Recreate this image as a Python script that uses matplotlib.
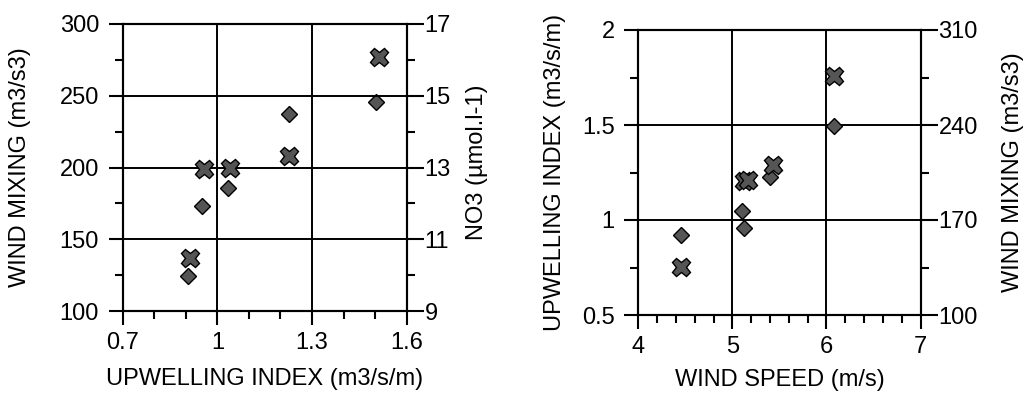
import numpy as np
import matplotlib
matplotlib.use('Agg')
import matplotlib.pyplot as plt
from matplotlib.ticker import MultipleLocator

plt.rcParams['font.family'] = ['Liberation Sans', 'DejaVu Sans']
plt.rcParams['font.size'] = 17

# left panel: upwelling index vs wind mixing (X, left axis) and NO3 (diamond, right axis)
upw_x = [0.913, 0.958, 1.04, 1.228, 1.513]
mix_x = [136.7, 198.7, 199.9, 208.2, 277.2]
upw_d = [0.906, 0.952, 1.035, 1.228, 1.502]
no3_d = [9.98, 11.93, 12.42, 14.49, 14.83]

# right panel: wind speed vs upwelling index (diamond, left axis) and wind mixing (X, right axis)
ws_d = [4.452, 5.105, 5.122, 5.401, 6.081]
upw2_d = [0.921, 1.049, 0.956, 1.228, 1.496]
ws_x = [4.45, 5.12, 5.17, 5.43, 6.08]
mix2_x = [135.6, 199.0, 199.5, 210.5, 276.3]

left_yticks = [100, 150, 200, 250, 300]
left_y2ticks = [9, 11, 13, 15, 17]
left_xticks = [0.7, 1.0, 1.3, 1.6]
left_xlabels = ['0.7', '1', '1.3', '1.6']
right_yticks = [0.5, 1.0, 1.5, 2.0]
right_ylabels = ['0.5', '1', '1.5', '2']
right_y2ticks = [100, 170, 240, 310]
right_y2minor = [135, 205, 275]
right_xticks = [4, 5, 6, 7]

mcol = '#555555'

fig = plt.figure(figsize=(10.3, 4), dpi=100)
ax1 = fig.add_axes([0.1191, 0.2225, 0.2757, 0.7175])
ax2 = fig.add_axes([0.6197, 0.2125, 0.2740, 0.7125])


def style(ax, ax_r):
    for a in (ax, ax_r):
        for s in a.spines.values():
            s.set_linewidth(1.5)
        a.tick_params(which='major', direction='out', length=10, width=1.5)
        a.tick_params(which='minor', direction='out', length=6, width=1.5)
    ax.grid(True, which='major', color='black', lw=1.4)
    ax.set_axisbelow(True)
    ax.tick_params(axis='y', pad=7)
    ax.tick_params(axis='x', pad=5)
    ax_r.tick_params(axis='y', pad=1, length=12)


# ---- left panel
ax1r = ax1.twinx()
ax1.set_xlim(0.7, 1.6)
ax1.set_ylim(100, 300)
ax1r.set_ylim(9, 17)
ax1.set_xticks(left_xticks, left_xlabels)
ax1.set_yticks(left_yticks)
ax1r.set_yticks(left_y2ticks)
ax1.xaxis.set_minor_locator(MultipleLocator(0.1))
ax1.yaxis.set_minor_locator(MultipleLocator(25))
ax1r.yaxis.set_minor_locator(MultipleLocator(1))
style(ax1, ax1r)
ax1r.plot(upw_d, no3_d, 'D', ms=8.5, mfc=mcol, mec='black', mew=1)
ax1.plot(upw_x, mix_x, 'X', ms=13, mfc=mcol, mec='black', mew=1)
ax1.set_zorder(ax1r.get_zorder() + 1)
ax1.patch.set_visible(False)
ax1.set_xlabel('UPWELLING INDEX (m3/s/m)')
ax1.set_ylabel('WIND MIXING (m3/s3)')
ax1r.set_ylabel('NO3 (\u00b5mol.l-1)')
ax1.xaxis.set_label_coords(0.5, -0.2)
ax1.yaxis.label.set_va('center')
ax1.yaxis.set_label_coords(-0.362, 0.5)
ax1r.yaxis.label.set_va('center')
ax1r.yaxis.set_label_coords(1.246, 0.52)

# ---- right panel
ax2r = ax2.twinx()
ax2.set_xlim(4, 7)
ax2.set_ylim(0.5, 2)
ax2r.set_ylim(100, 310)
ax2.set_xticks(right_xticks)
ax2.set_yticks(right_yticks, right_ylabels)
ax2r.set_yticks(right_y2ticks)
ax2r.set_yticks(right_y2minor, minor=True)
ax2.xaxis.set_minor_locator(MultipleLocator(0.2))
ax2.yaxis.set_minor_locator(MultipleLocator(0.25))
style(ax2, ax2r)
ax2.plot(ws_d, upw2_d, 'D', ms=8.5, mfc=mcol, mec='black', mew=1)
ax2r.plot(ws_x, mix2_x, 'X', ms=13, mfc=mcol, mec='black', mew=1)
ax2.set_xlabel('WIND SPEED (m/s)')
ax2.set_ylabel('UPWELLING INDEX (m3/s/m)')
ax2r.set_ylabel('WIND MIXING (m3/s3)')
ax2.xaxis.set_label_coords(0.5, -0.19)
ax2.yaxis.label.set_va('center')
ax2.yaxis.set_label_coords(-0.295, 0.5)
ax2r.yaxis.label.set_va('center')
ax2r.yaxis.set_label_coords(1.327, 0.5)

fig.savefig('out.png', dpi=100)
